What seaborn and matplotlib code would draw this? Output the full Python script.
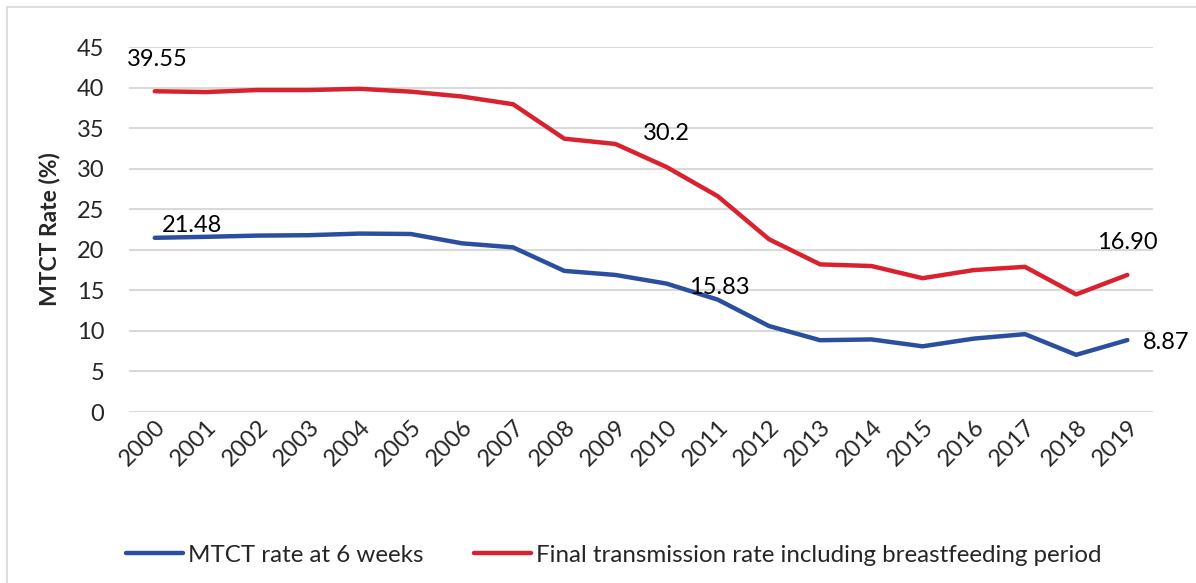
import matplotlib
matplotlib.use("Agg")
import matplotlib.pyplot as plt
from matplotlib.lines import Line2D
import seaborn as sns
import pandas as pd

years = [str(y) for y in range(2000, 2020)]
mtct_6weeks = [21.48, 21.6, 21.75, 21.8, 22.0, 21.95, 20.8, 20.3, 17.4, 16.9,
               15.83, 13.85, 10.6, 8.85, 8.95, 8.1, 9.05, 9.6, 7.05, 8.87]
final_rate = [39.55, 39.45, 39.7, 39.7, 39.85, 39.5, 38.9, 37.95, 33.7, 33.05,
              30.2, 26.6, 21.3, 18.2, 18.0, 16.5, 17.5, 17.9, 14.5, 16.90]
series_names = ["MTCT rate at 6 weeks",
                "Final transmission rate including breastfeeding period"]
y_ticks = [0, 5, 10, 15, 20, 25, 30, 35, 40, 45]

df = pd.DataFrame({
    "Year": years * 2,
    "Rate": mtct_6weeks + final_rate,
    "Series": [series_names[0]] * len(years) + [series_names[1]] * len(years),
})

sns.set_theme(style="white")
plt.rcParams["font.family"] = ["Lato", "DejaVu Sans"]

FS = 17
fig = plt.figure(figsize=(11.96, 5.83), dpi=100)
ax = fig.add_axes([0.108, 0.2933, 0.856, 0.626])

palette = {series_names[0]: "#2B4F9E", series_names[1]: "#DA2130"}
sns.lineplot(data=df, x="Year", y="Rate", hue="Series", palette=palette,
             linewidth=3.2, ax=ax, sort=False, legend=True, zorder=3)

ax.set_xlim(-0.5, len(years) - 0.5)
ax.set_ylim(0, 45)
ax.set_yticks(y_ticks)
ax.set_yticklabels([str(t) for t in y_ticks], fontsize=FS)
ax.tick_params(axis="x", labelrotation=45, labelsize=FS, length=0, pad=3)
ax.tick_params(axis="y", length=0, pad=18)
for lbl in ax.get_xticklabels():
    lbl.set_ha("right")
    lbl.set_rotation_mode("anchor")
ax.grid(axis="y", color="#D9D9D9", linewidth=1.5, zorder=0)
ax.grid(axis="x", visible=False)
for s in ax.spines.values():
    s.set_visible(False)
ax.set_xlabel("")
ax.set_ylabel("MTCT Rate (%)", fontsize=16.5, fontweight="bold", labelpad=12)

# data labels
lab_kw = dict(textcoords="offset points", fontsize=FS, color="black")
ax.annotate(f"{final_rate[0]:.2f}", (0, final_rate[0]), xytext=(2, 23), ha="center", va="center", **lab_kw)
ax.annotate(f"{mtct_6weeks[0]:.2f}", (0, mtct_6weeks[0]), xytext=(27, 9), ha="center", va="center", **lab_kw)
ax.annotate(f"{final_rate[10]:.1f}", (10, final_rate[10]), xytext=(0, 24), ha="center", va="center", **lab_kw)
ax.annotate(f"{mtct_6weeks[10]:.2f}", (10, mtct_6weeks[10]), xytext=(38, -3), ha="center", va="center", **lab_kw)
ax.annotate(f"{final_rate[19]:.2f}", (19, final_rate[19]), xytext=(0, 23.5), ha="center", va="center", **lab_kw)
ax.annotate(f"{mtct_6weeks[19]:.2f}", (19, mtct_6weeks[19]), xytext=(11, -2), ha="left", va="center", **lab_kw)

# legend at bottom
handles, labels = ax.get_legend_handles_labels()
ax.get_legend().remove()
fig.legend(handles, labels, loc="center", bbox_to_anchor=(0.513, 0.048), ncol=2,
           frameon=False, fontsize=17.4, handlelength=2.35, columnspacing=2.1,
           handletextpad=0.2)

# chart border (left and top)
fig.add_artist(Line2D([7 / 1196, 7 / 1196], [0, 1 - 7 / 583], color="#D9D9D9", linewidth=1.2))
fig.add_artist(Line2D([7 / 1196, 1], [1 - 7 / 583, 1 - 7 / 583], color="#D9D9D9", linewidth=1.2))

fig.savefig("out.png", dpi=100)
